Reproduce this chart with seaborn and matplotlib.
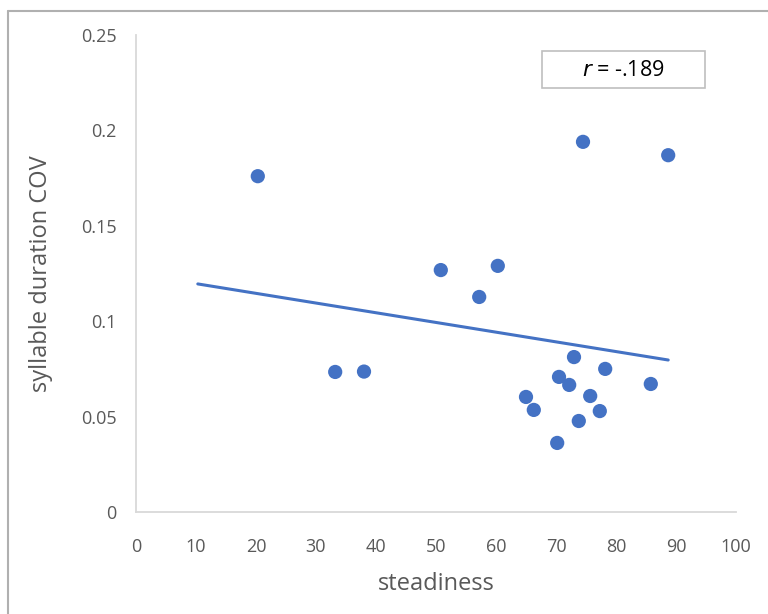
import numpy as np
import pandas as pd
import matplotlib
matplotlib.use("Agg")
import matplotlib.pyplot as plt
import seaborn as sns
from matplotlib.patches import Rectangle
from matplotlib.lines import Line2D
from matplotlib.ticker import FuncFormatter

steadiness = [20.3, 33.2, 38.0, 50.8, 57.2, 60.3, 65.0, 66.3, 70.2, 70.5,
              72.2, 73.0, 73.8, 74.5, 75.7, 77.3, 78.2, 85.8, 88.7]
cov = [0.176, 0.0734, 0.0736, 0.1268, 0.1127, 0.129, 0.0603, 0.0535, 0.0362, 0.0708,
       0.0666, 0.0812, 0.0477, 0.194, 0.0608, 0.0529, 0.075, 0.0671, 0.187]
backward_forecast = 10

sns.set_theme(style="white")
plt.rcParams['font.family'] = ['Open Sans', 'DejaVu Sans']

df = pd.DataFrame({"steadiness": steadiness, "cov": cov})

fig = plt.figure(figsize=(7.68, 6.14), dpi=100)
ax = fig.add_axes([136/768, 102/614, 600/768, 477/614])

blue = "#4472C4"
slope, intercept = np.polyfit(df["steadiness"], df["cov"], 1)
xs = np.array([df["steadiness"].min() - backward_forecast, df["steadiness"].max()])
trend = pd.DataFrame({"x": xs, "y": slope * xs + intercept})
sns.lineplot(data=trend, x="x", y="y", ax=ax, color=blue, linewidth=2.2, zorder=2)
sns.scatterplot(data=df, x="steadiness", y="cov", ax=ax, color=blue, s=105,
                edgecolor="none", zorder=3)

ax.set_xlim(0, 100)
ax.set_ylim(0, 0.25)
ax.set_xticks(np.arange(0, 101, 10))
ax.set_yticks([0, 0.05, 0.1, 0.15, 0.2, 0.25])
ax.yaxis.set_major_formatter(FuncFormatter(lambda v, p: ("%g" % round(v, 3))))
ax.tick_params(axis="both", colors="#595959", labelsize=13, length=0)
ax.tick_params(axis="x", pad=19)
ax.tick_params(axis="y", pad=14)

for s in ["top", "right"]:
    ax.spines[s].set_visible(False)
for s in ["left", "bottom"]:
    ax.spines[s].set_color("#d9d9d9")
    ax.spines[s].set_linewidth(1.3)

ax.set_xlabel("steadiness", fontsize=17, color="#595959", labelpad=11)
ax.set_ylabel("syllable duration COV", fontsize=17, color="#595959", labelpad=20)

ax.add_patch(Rectangle((406/600, (512-88)/477), 163/600, 37/477, transform=ax.transAxes,
                       facecolor="white", edgecolor="#bfbfbf", linewidth=1.2, zorder=4))
ax.text(487/600, (512-70)/477, r"$\it{r}$ = -.189", transform=ax.transAxes,
        ha="center", va="center", fontsize=15.5, color="black", zorder=5)

# outer chart border (partially visible)
fig.add_artist(Line2D([8/768, 1], [1-11/614, 1-11/614], transform=fig.transFigure,
                      color="#b0b0b0", linewidth=1.5))
fig.add_artist(Line2D([8/768, 8/768], [0, 1-11/614], transform=fig.transFigure,
                      color="#b0b0b0", linewidth=1.5))

fig.savefig("out.png", dpi=100)
